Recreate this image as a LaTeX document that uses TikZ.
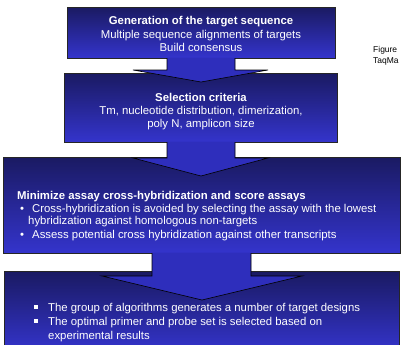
\documentclass[tikz,border=0pt]{standalone}
\usepackage{fontspec}
\setmainfont{Liberation Sans}
\begin{document}
\begin{tikzpicture}[x=1bp,y=-1bp,
  box/.style={draw=black!85, line width=0.6bp, top color=navytop, bottom color=navybot, inner sep=0pt, outer sep=0pt},
  txt/.style={text=white, inner sep=0pt, font=\fontsize{11.4}{13}\selectfont},
  btxt/.style={txt, font=\fontsize{11.4}{13}\selectfont\bfseries},
  arrowfill/.style={fill=arrowblue},
  arrowline/.style={draw=black, line width=0.6bp, line join=miter}]
\definecolor{navytop}{HTML}{1A1A62}
\definecolor{navybot}{HTML}{3434CC}
\definecolor{arrowblue}{HTML}{2E2EBC}
\useasboundingbox (0,0) rectangle (402,345);
\fill[white] (0,0) rectangle (402,345);
% boxes
\path[box] (67,7) rectangle (335,58) node[coordinate] (b1) {};
\path[box] (64,73) rectangle (337,142) node[coordinate] (b2) {};
\path[box] (3,157) rectangle (400,253) node[coordinate] (b3) {};
\path[box] (4,271) rectangle (399,352) node[coordinate] (b4) {};
% arrows
\fill[arrowfill] (167,57.5) -- (167,70) -- (133,70) -- (201,82) -- (268,70) -- (235,70) -- (235,57.5) -- cycle;
\draw[arrowline] (167,58) -- (167,70) -- (133,70) -- (201,82) -- (268,70) -- (235,70) -- (235,58);
\fill[arrowfill] (167,141.5) -- (167,158) -- (133,158) -- (201,176) -- (268,158) -- (235,158) -- (235,141.5) -- cycle;
\draw[arrowline] (167,142) -- (167,158) -- (133,158) -- (201,176) -- (268,158) -- (235,158) -- (235,142);
\fill[arrowfill] (152,252.5) -- (152,276) -- (102,276) -- (202,300) -- (302,276) -- (251,276) -- (251,252.5) -- cycle;
\draw[arrowline] (152,253) -- (152,276) -- (102,276) -- (202,300) -- (302,276) -- (251,276) -- (251,253);
% box 1 text
\node[btxt, anchor=base] (t11) at (201,24.5) {Generation of the target sequence};
\node[txt, anchor=base] (t12) at (201,38.3) {Multiple sequence alignments of targets};
\node[txt, anchor=base] (t13) at (201,51.7) {Build consensus};
% box 2 text
\node[btxt, anchor=base] (t21) at (201,101) {Selection criteria};
\node[txt, anchor=base] (t22) at (201,114.2) {Tm, nucleotide distribution, dimerization,};
\node[txt, anchor=base] (t23) at (201,127.3) {poly N, amplicon size};
% box 3 text
\node[btxt, anchor=base west] (t31) at (17,199) {Minimize assay cross-hybridization and score assays};
\node[txt, anchor=base west] (t3b1) at (20,212.3) {•};
\node[txt, anchor=base west] (t32) at (32,212.3) {Cross-hybridization is avoided by selecting the assay with the lowest};
\node[txt, anchor=base west] (t33) at (28,224.5) {hybridization against homologous non-targets};
\node[txt, anchor=base west] (t3b2) at (20,238) {•};
\node[txt, anchor=base west] (t34) at (32,238) {Assess potential cross hybridization against other transcripts};
% box 4 text
\fill[white] (34,305) rectangle (37.5,308.5) node[coordinate] (sq1) {};
\node[txt, anchor=base west] (t41) at (48,311) {The group of algorithms generates a number of target designs};
\fill[white] (34,319) rectangle (37.5,322.5) node[coordinate] (sq2) {};
\node[txt, anchor=base west] (t42) at (48,325) {The optimal primer and probe set is selected based on};
\node[txt, anchor=base west] (t43) at (48,339) {experimental results};
% side caption
\node[anchor=base west, inner sep=0pt, font=\fontsize{8.5}{10}\selectfont] (f1) at (373,52) {Figure};
\node[anchor=base west, inner sep=0pt, font=\fontsize{8.5}{10}\selectfont] (f2) at (373,63) {TaqMa};
\end{tikzpicture}
\end{document}
